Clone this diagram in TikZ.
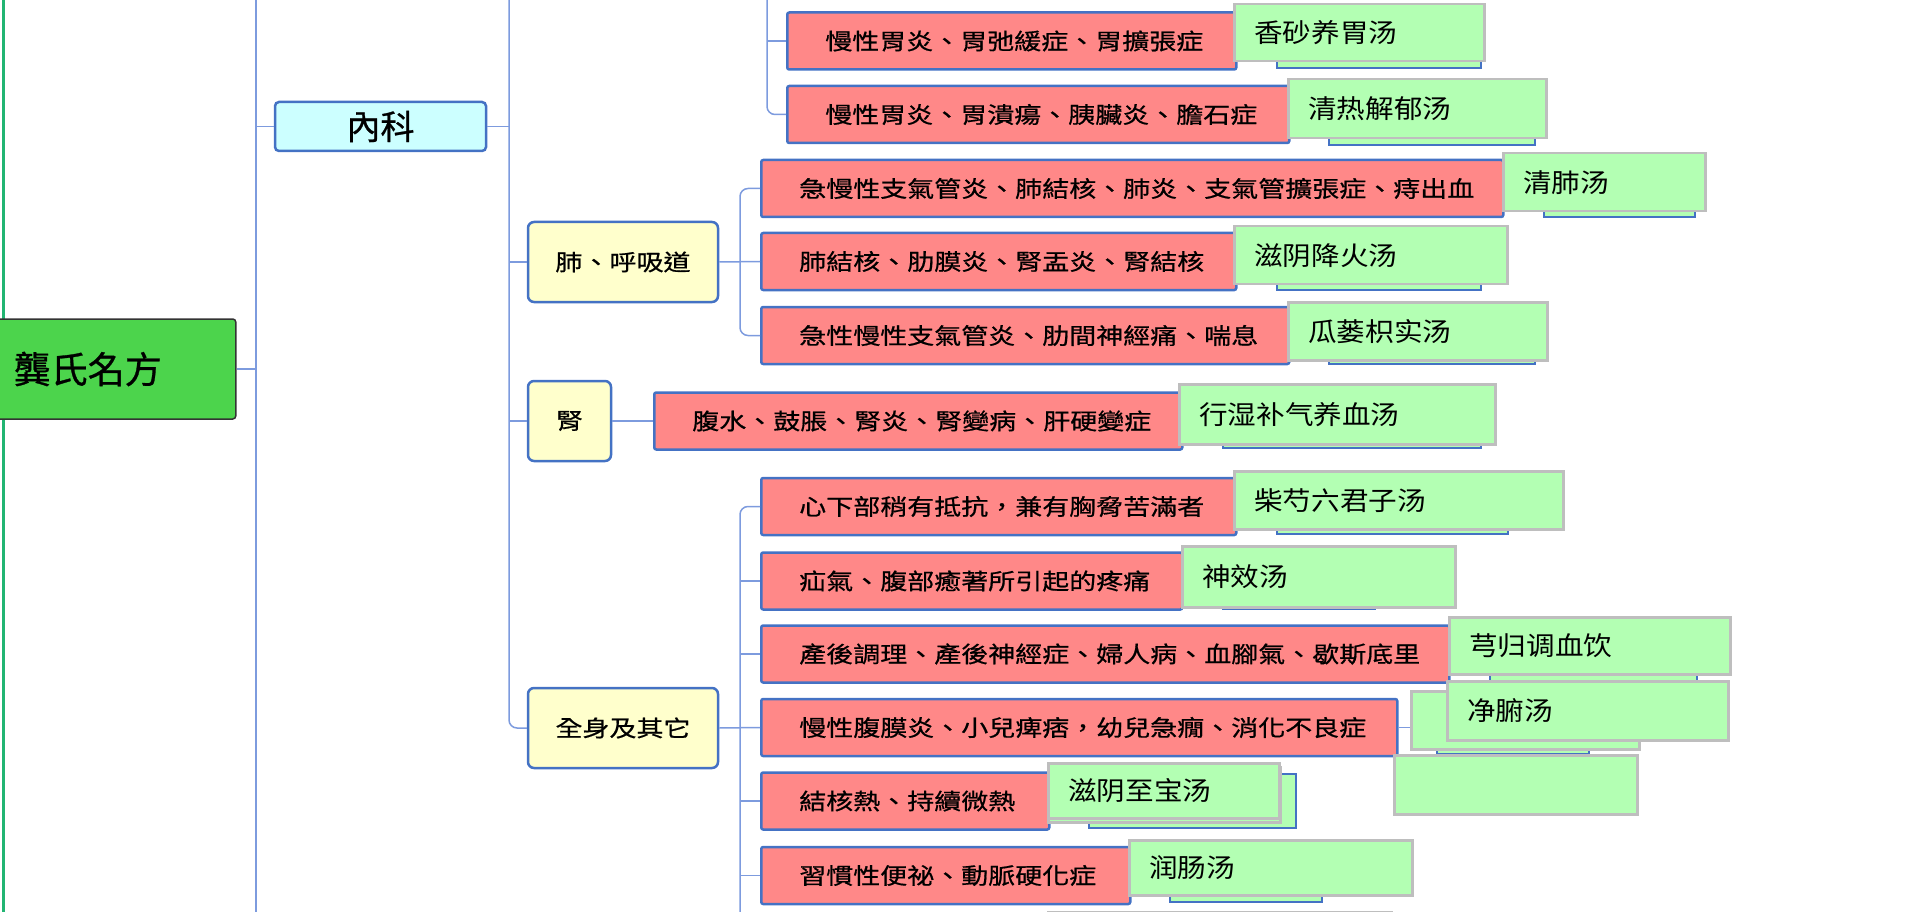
\documentclass[tikz,border=0pt]{standalone}
\usepackage{fontspec}
\usepackage{xcolor}
\usepackage{tikz}
\newfontfamily\tcfont[FakeStretch=1.2,FakeBold=0.7]{Noto Sans CJK TC}
\newfontfamily\tcbig[FakeBold=0.8]{Noto Sans CJK TC}
\newfontfamily\scfont[FakeStretch=1.1]{Noto Sans CJK SC}

\definecolor{redfill}{RGB}{255,136,136}
\definecolor{nodeblue}{RGB}{68,114,196}
\definecolor{linkblue}{RGB}{125,155,222}
\definecolor{tangfill}{RGB}{179,255,179}
\definecolor{tangedge}{RGB}{190,190,190}
\definecolor{catfill}{RGB}{255,255,204}
\definecolor{deptfill}{RGB}{204,255,255}
\definecolor{rootfill}{RGB}{76,212,76}
\definecolor{edgegreen}{RGB}{34,181,115}

\begin{document}
\begin{tikzpicture}[x=1pt,y=-1pt,
  link/.style={draw=linkblue, line width=1.5pt},
  rootbox/.style={draw=black!80, fill=rootfill, line width=1.5pt, rounded corners=3pt,
    anchor=west, inner xsep=17pt, inner ysep=0pt, align=left, font=\tcbig\fontsize{37}{40}\selectfont},
  deptbox/.style={draw=nodeblue, fill=deptfill, line width=2.5pt, rounded corners=4pt,
    inner sep=0pt, font=\tcbig\fontsize{34}{36}\selectfont},
  catbox/.style={draw=nodeblue, fill=catfill, line width=2.5pt, rounded corners=6pt,
    inner sep=0pt, minimum height=80, font=\tcfont\fontsize{22.5}{26}\selectfont},
  redbox/.style={draw=nodeblue, fill=redfill, line width=2.5pt, rounded corners=2pt,
    anchor=west, inner xsep=38pt, inner ysep=0pt, minimum height=57, align=left,
    font=\tcfont\fontsize{22.5}{26}\selectfont},
  tangbox/.style={draw=tangedge, fill=tangfill, line width=2.5pt, anchor=north west,
    inner xsep=20pt, inner ysep=0pt, align=left, font=\scfont\fontsize{26}{30}\selectfont},
  pilebox/.style={draw=tangedge, fill=tangfill, line width=2.5pt, anchor=north west, inner sep=0pt},
  strip/.style={draw=nodeblue, fill=tangfill, line width=2pt}]
  \def\W{1907}  % page width (px)
  \def\H{912}   % page height (px)

  \useasboundingbox (0,0) rectangle (\W,\H);
  \clip (0,0) rectangle (\W,\H);

  % Page edge
  \draw[edgegreen, line width=3pt] (3,0) -- (3,\H);

  % Root and department
  \node[rootbox, minimum width=239, text width=205, minimum height=100] (root) at (-4,369) {龔氏名方};
  \node[deptbox, minimum width=211, minimum height=49] (neike) at (380.5,126.5) {內科};

  % Categories
  \node[catbox, minimum width=190] (lung)   at (623,262)   {肺、呼吸道};
  \node[catbox, minimum width=83]  (kidney) at (569.5,421) {腎};
  \node[catbox, minimum width=190] (body)   at (623,728)   {全身及其它};

  % Symptoms
  \node[redbox, text width=373] (r1)  at (786,41)    {慢性胃炎、胃弛緩症、胃擴張症};
  \node[redbox, text width=426] (r2)  at (786,114.5) {慢性胃炎、胃潰瘍、胰臟炎、膽石症};
  \node[redbox, text width=666] (r3)  at (760,188.5) {急慢性支氣管炎、肺結核、肺炎、支氣管擴張症、痔出血};
  \node[redbox, text width=399] (r4)  at (760,261.5) {肺結核、肋膜炎、腎盂炎、腎結核};
  \node[redbox, text width=452] (r5)  at (760,335.5) {急性慢性支氣管炎、肋間神經痛、喘息};
  \node[redbox, text width=452] (r6)  at (653,421)   {腹水、鼓脹、腎炎、腎變病、肝硬變症};
  \node[redbox, text width=399] (r7)  at (760,506.5) {心下部稍有抵抗，兼有胸脅苦滿者};
  \node[redbox, text width=345] (r8)  at (760,581)   {疝氣、腹部癒著所引起的疼痛};
  \node[redbox, text width=612] (r9)  at (760,654)   {產後調理、產後神經症、婦人病、血腳氣、歇斯底里};
  \node[redbox, text width=560] (r10) at (760,727.5) {慢性腹膜炎、小兒痺痞，幼兒急癇、消化不良症};
  \node[redbox, text width=212] (r11) at (760,801)   {結核熱、持續微熱};
  \node[redbox, text width=293] (r12) at (760,875.5) {習慣性便祕、動脈硬化症};

  % Hidden boxes under the prescriptions
  \draw[strip] (1277,40)  rectangle (1481,68);
  \draw[strip] (1329,115) rectangle (1535,145);
  \draw[strip] (1544,190) rectangle (1695,217);
  \draw[strip] (1277,262) rectangle (1481,290);
  \draw[strip] (1329,340) rectangle (1535,364);
  \draw[strip] (1223,420) rectangle (1481,448);
  \draw[strip] (1277,510) rectangle (1508,534);
  \draw[strip] (1223,585) rectangle (1375,609);
  \draw[strip] (1490,650) rectangle (1697,682);
  \draw[strip] (1437,730) rectangle (1589,754);
  \draw[strip] (1089,774) rectangle (1296,828);
  \draw[strip] (1170,875) rectangle (1322,902);

  % Prescriptions
  \node[tangbox, text width=210, minimum height=57] (g1)  at (1233,3)   {香砂养胃汤};
  \node[tangbox, text width=218, minimum height=59] (g2)  at (1287,78)  {清热解郁汤};
  \node[tangbox, text width=162, minimum height=58] (g3)  at (1502,152) {清肺汤};
  \node[tangbox, text width=233, minimum height=58] (g4)  at (1233,225) {滋阴降火汤};
  \node[tangbox, text width=219, minimum height=58] (g5)  at (1287,301) {瓜蒌枳实汤};
  \node[tangbox, text width=276, minimum height=60] (g6)  at (1178,383) {行湿补气养血汤};
  \node[tangbox, text width=289, minimum height=58] (g7)  at (1233,470) {柴芍六君子汤};
  \node[tangbox, text width=233, minimum height=61] (g8)  at (1181,545) {神效汤};
  \node[tangbox, text width=241, minimum height=57] (g9)  at (1448,616) {芎归调血饮};
  \node[pilebox, minimum width=228, minimum height=58] (pileA) at (1410,690) {};
  \node[tangbox, text width=241, minimum height=59] (g10) at (1446,680) {净腑汤};
  \node[pilebox, minimum width=243, minimum height=59] (pileC) at (1393,754) {};
  \node[pilebox, minimum width=232, minimum height=55] (pileB) at (1047,766) {};
  \node[tangbox, text width=191, minimum height=55] (g11) at (1047,762) {滋阴至宝汤};
  \node[tangbox, text width=243, minimum height=55] (g12) at (1128,839) {润肠汤};
  \node[pilebox, minimum width=343, minimum height=50] (pileD) at (1047,911) {};

  % Connectors
  \coordinate (trunktop) at (256,0);
  \coordinate (trunkbot) at (256,\H);
  \coordinate (bustop)   at (509,0);
  \coordinate (stombus)  at (767,0);
  \coordinate (lungbus)  at (740,262);
  \coordinate (bodybus)  at (740,\H);
  \draw[link] (trunktop) -- (trunkbot);
  \draw[link] (root.east) -- (root.east -| trunktop);
  \draw[link] (neike.west -| trunktop) -- (neike.west);
  \draw[link] (neike.east) -- (neike.east -| bustop);
  \draw[link, rounded corners=8pt] (bustop) |- (body.west);
  \draw[link] (lung.west -| bustop) -- (lung.west);
  \draw[link] (kidney.west -| bustop) -- (kidney.west);

  \draw[link, rounded corners=8pt] (stombus) |- (r2.west);
  \draw[link] (r1.west -| stombus) -- (r1.west);

  \draw[link] (lung.east) -- (r4.west);
  \draw[link, rounded corners=8pt] (r3.west) -| (lungbus) |- (r5.west);

  \draw[link] (kidney.east) -- (r6.west);

  \draw[link, rounded corners=8pt] (r7.west) -| (bodybus);
  \draw[link] (body.east) -- (r10.west);
  \draw[link] (r8.west -| bodybus) -- (r8.west);
  \draw[link] (r9.west -| bodybus) -- (r9.west);
  \draw[link] (r11.west -| bodybus) -- (r11.west);
  \draw[link] (r12.west -| bodybus) -- (r12.west);
  \draw[link] (r10.east) -- (r10.east -| pileA.west);
\end{tikzpicture}
\end{document}
